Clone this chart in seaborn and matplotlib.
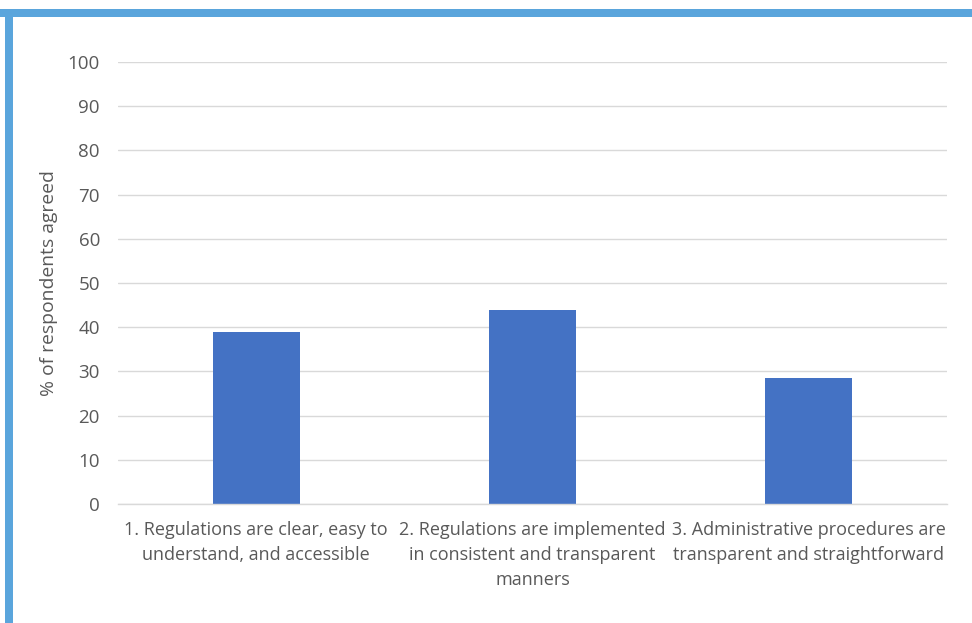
import matplotlib
matplotlib.use("Agg")
import matplotlib.pyplot as plt
import seaborn as sns
import pandas as pd
from matplotlib.patches import Rectangle

categories = [
    "1. Regulations are clear, easy to\nunderstand, and accessible",
    "2. Regulations are implemented\nin consistent and transparent\nmanners",
    "3. Administrative procedures are\ntransparent and straightforward",
]
values = [39, 44, 28.5]
yticks = [0, 10, 20, 30, 40, 50, 60, 70, 80, 90, 100]

sns.set_theme(style="white")
plt.rcParams['font.family'] = ['Open Sans', 'DejaVu Sans']

W, H = 972, 623
fig = plt.figure(figsize=(W / 100, H / 100), dpi=100)
ax = fig.add_axes([118 / W, 1 - 504 / H, (947 - 118) / W, (504 - 62) / H])

df = pd.DataFrame({"cat": categories, "val": values})
sns.barplot(data=df, x="cat", y="val", color="#4472c4", width=0.315, ax=ax,
            saturation=1, edgecolor="none")

ax.set_ylim(0, 100)
ax.set_xlim(-0.5, 2.5)
ax.set_yticks(yticks)
ax.yaxis.grid(True, color="#d9d9d9", linewidth=1)
ax.set_axisbelow(True)
for s in ["top", "right", "left"]:
    ax.spines[s].set_visible(False)
ax.spines["bottom"].set_color("#d9d9d9")
ax.spines["bottom"].set_linewidth(1)
ax.tick_params(axis="both", length=0, colors="#595959")
ax.tick_params(axis="y", pad=13, labelsize=13.5)
ax.tick_params(axis="x", pad=12, labelsize=13)
ax.set_xlabel("")
ax.set_ylabel("% of respondents agreed", fontsize=13.9, color="#595959", labelpad=7)
for lab in ax.get_xticklabels():
    lab.set_linespacing(1.5)

# blue frame (top and left)
fig.patches.append(Rectangle((0, 1 - 17 / H), 1, 8 / H, transform=fig.transFigure,
                             facecolor="#5aa5dc", edgecolor="none", zorder=10))
fig.patches.append(Rectangle((5 / W, 0), 8 / W, 1 - 9 / H, transform=fig.transFigure,
                             facecolor="#5aa5dc", edgecolor="none", zorder=10))

fig.savefig("out.png", dpi=100, facecolor="white")
